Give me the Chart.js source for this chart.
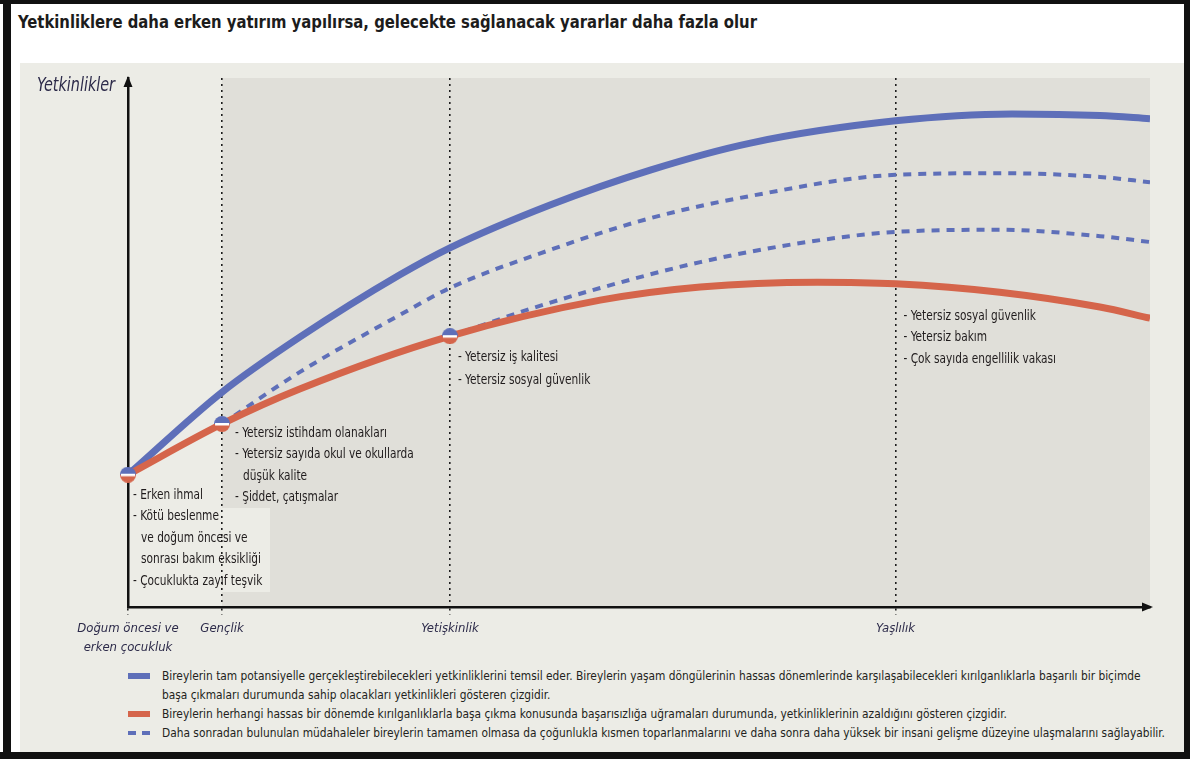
<!DOCTYPE html>
<html>
<head>
<meta charset="utf-8">
<script src="https://cdn.jsdelivr.net/npm/chart.js@4.4.0/dist/chart.umd.min.js"></script>
<style>
body{margin:0;background:#fff;}
#frame{position:absolute;left:0;top:0;width:1190px;height:759px;background:#fff;overflow:hidden;
  font-family:'Liberation Sans Narrow','DejaVu Sans Condensed','Roboto',sans-serif;color:#231f20}
.bar{position:absolute;background:#111}
#title{position:absolute;left:18px;top:12px;font-weight:bold;font-size:17px;white-space:nowrap;color:#1c1c1c;transform-origin:left center}
#panel{position:absolute;left:20px;top:63px;width:1164px;height:689px;background:#ecece6}
#chart{position:absolute;left:20px;top:63px}
#legend{position:absolute;left:128px;top:666px}
.row{position:relative;height:19px;font-size:13px;line-height:19px;white-space:nowrap}
.row span.txt{position:absolute;left:34px;top:0;transform-origin:left center}
.sw{position:absolute;left:0;top:7px;width:22px;height:6px}
.dash{position:absolute;left:0;top:8px;width:22px;height:0;border-top:4px dashed #5e6fb9}
</style>
</head>
<body>
<div id="frame">
  <div id="title">Yetkinliklere daha erken yatırım yapılırsa, gelecekte sağlanacak yararlar daha fazla olur</div>
  <div id="panel"></div>
  <canvas id="chart" width="1164" height="594"></canvas>
  <div id="legend"></div>
  <div class="bar" style="left:0;top:0;width:1190px;height:4px"></div>
  <div class="bar" style="left:3px;top:0;width:8px;height:759px"></div>
  <div class="bar" style="left:1184px;top:0;width:6px;height:759px"></div>
  <div class="bar" style="left:0;top:752px;width:1190px;height:7px"></div>
</div>
<script>
// life stages on the x axis (0 = birth, 100 = end of axis)
const stageX = [0, 9.2, 31.5, 75.1]
const stageLabels = [['Doğum öncesi ve', 'erken çocukluk'], 'Gençlik', 'Yetişkinlik', 'Yaşlılık']

// full potential (solid blue)
const fullX = [0, 9.2, 16.8, 26.6, 31.5, 41.3, 51.1, 60.9, 75.1, 86.5, 95.1, 100]
const fullY = [25.0, 40.6, 51.0, 62.8, 67.9, 76.0, 82.6, 87.7, 91.9, 93.2, 92.9, 92.3]

// lost capabilities (solid red)
const lossX = [0, 9.2, 16.8, 31.5, 46.2, 56.0, 67.5, 75.1, 85.3, 95.1, 100]
const lossY = [25.0, 34.6, 41.2, 51.2, 58.0, 60.5, 61.4, 61.1, 59.5, 56.7, 54.6]

// recovery after intervention in youth (upper dashed)
const recoverYouthX = [9.2, 16.8, 26.6, 31.5, 41.3, 51.1, 60.9, 75.1, 85.3, 95.1, 100]
const recoverYouthY = [34.6, 44.4, 55.2, 60.3, 67.5, 73.5, 77.7, 81.7, 82.0, 81.3, 80.3]

// recovery after intervention in adulthood (lower dashed)
const recoverAdultX = [31.5, 34.7, 39.6, 46.2, 56.0, 65.8, 75.1, 85.3, 95.1, 100]
const recoverAdultY = [51.2, 53.3, 56.5, 60.3, 65.2, 68.8, 70.9, 71.3, 70.1, 69.0]

// vulnerabilities listed under each stage
const risks = [
  ['- Erken ihmal', '- Kötü beslenme', '  ve doğum öncesi ve', '  sonrası bakım eksikliği', '- Çocuklukta zayıf teşvik'],
  ['- Yetersiz istihdam olanakları', '- Yetersiz sayıda okul ve okullarda', '  düşük kalite', '- Şiddet, çatışmalar'],
  ['- Yetersiz iş kalitesi', '- Yetersiz sosyal güvenlik'],
  ['- Yetersiz sosyal güvenlik', '- Yetersiz bakım', '- Çok sayıda engellilik vakası']
]

const legendLines = [
  ['Bireylerin tam potansiyelle gerçekleştirebilecekleri yetkinliklerini temsil eder. Bireylerin yaşam döngülerinin hassas dönemlerinde karşılaşabilecekleri kırılganlıklarla başarılı bir biçimde',
   'başa çıkmaları durumunda sahip olacakları yetkinlikleri gösteren çizgidir.'],
  ['Bireylerin herhangi hassas bir dönemde kırılganlıklarla başa çıkma konusunda başarısızlığa uğramaları durumunda, yetkinliklerinin azaldığını gösteren çizgidir.'],
  ['Daha sonradan bulunulan müdahaleler bireylerin tamamen olmasa da çoğunlukla kısmen toparlanmalarını ve daha sonra daha yüksek bir insani gelişme düzeyine ulaşmalarını sağlayabilir.']
]

const BLUE = '#5e6fb9'
const RED = '#d5654b'
const FONT = "'Liberation Sans Narrow','DejaVu Sans Condensed','Roboto',sans-serif"
const NARROW = 0.84   // squeeze for the condensed look of the original

const zip = (xs, ys) => xs.map((x, i) => ({x: x, y: ys[i]}))

//legend
const legendEl = document.getElementById('legend')
const swatches = ['<div class="sw" style="background:' + BLUE + '"></div>',
                  '<div class="sw" style="background:' + RED + '"></div>',
                  '<div class="dash"></div>']
const spans = []
legendLines.forEach((lines, k) => {
  lines.forEach((t, j) => {
    const row = document.createElement('div')
    row.className = 'row'
    row.innerHTML = (j === 0 ? swatches[k] : '') + '<span class="txt"></span>'
    const s = row.querySelector('.txt')
    s.textContent = t
    spans.push(s)
    legendEl.appendChild(row)
  })
})
// fit legend and title to the widths of the original
const last = spans[spans.length - 1]
const f = 1003 / last.getBoundingClientRect().width
spans.forEach(s => { s.style.transform = 'scaleX(' + f + ')' })
const titleEl = document.getElementById('title')
titleEl.style.transform = 'scaleX(' + (739 / titleEl.getBoundingClientRect().width) + ')'

// half blue / half red milestone dot
function milestoneDot(r){
  const c = document.createElement('canvas')
  c.width = c.height = r * 2
  const g = c.getContext('2d')
  g.fillStyle = BLUE
  g.beginPath(); g.arc(r, r, r, Math.PI, 0); g.fill()
  g.fillStyle = RED
  g.beginPath(); g.arc(r, r, r, 0, Math.PI); g.fill()
  g.fillStyle = '#fff'
  g.fillRect(1, r - 1, r * 2 - 2, 2.5)
  return c
}
const milestones = [0, 1, 2].map(i => ({x: stageX[i], y: lossY[lossX.indexOf(stageX[i])]}))

function squeezeText(ctx, t, x, y, sx){
  ctx.save()
  ctx.translate(x, y)
  ctx.scale(sx, 1)
  ctx.fillText(t, 0, 0)
  ctx.restore()
}

// backgrounds, arrows and stage notes
const decor = {
  id: 'decor',
  beforeDraw(chart){
    const {ctx, chartArea: {top, bottom, right}, scales: {x}} = chart
    const xg = x.getPixelForValue(stageX[1])
    ctx.save()
    ctx.fillStyle = '#e0dfd9'
    ctx.fillRect(xg, top, right - xg, bottom - top)
    ctx.fillStyle = '#ecece6'
    ctx.fillRect(xg, 445, 48, 84)
    ctx.restore()
  },
  afterDraw(chart){
    const {ctx, chartArea: {top, bottom, left, right}, scales: {x}} = chart
    ctx.save()
    ctx.fillStyle = '#111'
    ctx.beginPath()
    ctx.moveTo(left, top - 2); ctx.lineTo(left - 4.5, top + 9); ctx.lineTo(left + 4.5, top + 9); ctx.fill()
    ctx.beginPath()
    ctx.moveTo(right + 3, bottom); ctx.lineTo(right - 8, bottom - 4.5); ctx.lineTo(right - 8, bottom + 4.5); ctx.fill()

    ctx.fillStyle = '#2d2b4a'
    ctx.font = 'italic 20px ' + FONT
    ctx.textAlign = 'right'
    ctx.textBaseline = 'middle'
    squeezeText(ctx, 'Yetkinlikler', left - 13, top + 8, 0.8)

    // note blocks: offset from stage line, first line y, line step
    const pos = [[5, 432, 21.5], [13, 370, 21.5], [8, 294, 23], [8, 253, 21.5]]
    ctx.fillStyle = '#1f1b1c'
    ctx.font = '14px ' + FONT
    ctx.textAlign = 'left'
    risks.forEach((lines, k) => {
      const px = x.getPixelForValue(stageX[k]) + pos[k][0]
      lines.forEach((t, j) => {
        const indent = t.startsWith('  ') ? 8 : 0
        squeezeText(ctx, t.trim(), px + indent, pos[k][1] + j * pos[k][2], NARROW)
      })
    })
    ctx.restore()
  }
}

const ctx = document.getElementById('chart')
const lifeChart = new Chart(ctx, {
  type: 'line',
  data: {
    datasets: [
      {
        label: 'milestones',
        data: milestones,
        showLine: false,
        pointStyle: milestoneDot(8),
        clip: false,
        order: 0
      },
      {
        label: 'Kırılganlık',
        data: zip(lossX, lossY),
        borderColor: RED,
        borderWidth: 7,
        pointRadius: 0,
        cubicInterpolationMode: 'monotone',
        order: 1
      },
      {
        label: 'Tam potansiyel',
        data: zip(fullX, fullY),
        borderColor: BLUE,
        borderWidth: 7,
        pointRadius: 0,
        cubicInterpolationMode: 'monotone',
        order: 2
      },
      {
        label: 'Gençlikte müdahale',
        data: zip(recoverYouthX, recoverYouthY),
        borderColor: BLUE,
        borderWidth: 4,
        borderDash: [8, 7],
        pointRadius: 0,
        cubicInterpolationMode: 'monotone',
        order: 3
      },
      {
        label: 'Yetişkinlikte müdahale',
        data: zip(recoverAdultX, recoverAdultY),
        borderColor: BLUE,
        borderWidth: 4,
        borderDash: [8, 7],
        pointRadius: 0,
        cubicInterpolationMode: 'monotone',
        order: 4
      }
    ]
  },
  options: {
    responsive: false,
    devicePixelRatio: 1,
    animation: false,
    layout: {padding: {left: 108, right: 34, top: 15, bottom: 0}},
    plugins: {legend: {display: false}, tooltip: {enabled: false}},
    scales: {
      x: {
        type: 'linear',
        min: 0,
        max: 100,
        afterBuildTicks: (scale) => { scale.ticks = stageX.map(v => ({value: v})) },
        afterFit: (scale) => { scale.height = 50 },
        ticks: {
          autoSkip: false,
          maxRotation: 0,
          padding: 5,
          color: '#2d2b4a',
          font: {family: FONT, size: 13, style: 'italic', lineHeight: 1.4},
          callback: (v, i) => stageLabels[i]
        },
        grid: {
          drawOnChartArea: true,
          drawTicks: true,
          tickLength: 8,
          lineWidth: 1.6,
          color: (c) => (c.tick && c.tick.value === 0) ? 'rgba(0,0,0,0)' : '#1e1e1e',
          tickColor: '#1e1e1e',
          tickBorderDash: [2, 4]
        },
        border: {color: '#111', width: 2.5, dash: [2, 4]}
      },
      y: {
        min: 0,
        max: 100,
        afterFit: (scale) => { scale.width = 0 },
        ticks: {display: false},
        grid: {display: false},
        border: {color: '#111', width: 2.5}
      }
    }
  },
  plugins: [decor]
})
</script>
</body>
</html>
